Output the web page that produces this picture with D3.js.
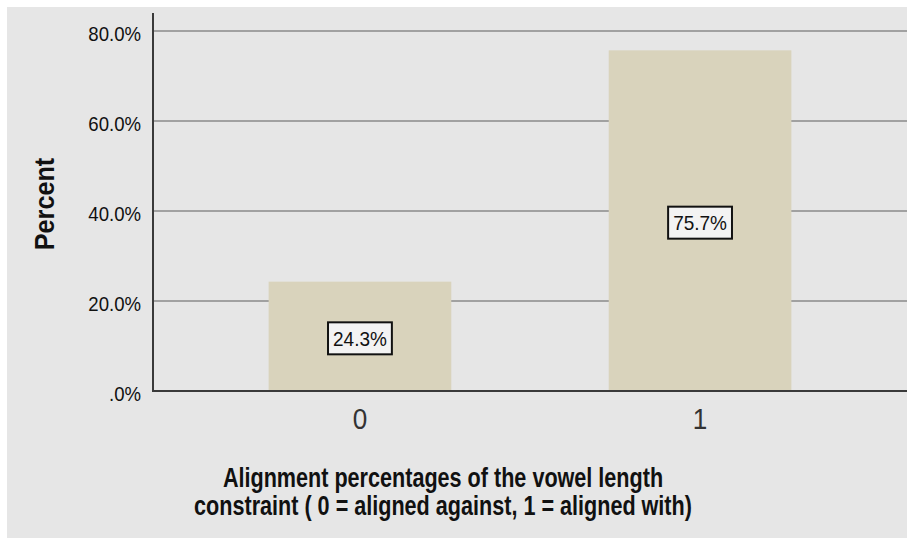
<!DOCTYPE html>
<html>
<head>
<meta charset="utf-8">
<script src="https://cdnjs.cloudflare.com/ajax/libs/d3/7.8.5/d3.min.js"></script>
<style>
  body { margin: 0; background: #fff; }
  svg { display: block; }
  text { font-family: "Liberation Sans", Arial, sans-serif; }
</style>
</head>
<body>
<svg class="parchment" width="907" height="538"></svg>
<script>
// data
var categories = ["0", "1"]
var percents = [24.3, 75.7]
var yTicks = [0, 20, 40, 60, 80]
var yTitle = "Percent"
var xTitleLines = ["Alignment percentages of the vowel length",
                   "constraint ( 0 = aligned against, 1 = aligned with)"]

var W = 907, H = 538
var plot = {left: 153, right: 907, top: 13, bottom: 391}

var svg = d3.select(".parchment")

svg.append("rect")
  .attr("x", 7).attr("y", 7)
  .attr("width", W - 7).attr("height", H - 7)
  .attr("fill", "#e6e6e6")

var x = d3.scaleBand()
  .domain(categories)
  .range([plot.left, plot.right])
  .paddingInner(0.463)
  .paddingOuter(0.34)

var y = d3.scaleLinear()
  .domain([0, 80])
  .range([plot.bottom, 31])

// squeezed text: the source renders glyphs tall and narrow
function squeezed(g, px, py, str, size, sx, anchor, weight) {
  return g.append("text")
    .attr("transform", "translate(" + px + "," + py + ") scale(" + sx + ",1)")
    .attr("text-anchor", anchor)
    .attr("font-size", size)
    .attr("font-weight", weight || "normal")
    .attr("fill", "#111")
    .text(str)
}

// gridlines
svg.append("g").selectAll("line")
  .data(yTicks.filter(function(d) { return d > 0 }))
  .enter().append("line")
  .attr("x1", plot.left).attr("x2", plot.right)
  .attr("y1", function(d) { return y(d) }).attr("y2", function(d) { return y(d) })
  .attr("stroke", "#8a8a8a")
  .attr("stroke-width", 1.5)

// bars
svg.append("g").selectAll("rect")
  .data(percents)
  .enter().append("rect")
  .attr("x", function(d, i) { return x(categories[i]) })
  .attr("width", x.bandwidth())
  .attr("y", function(d) { return y(d) })
  .attr("height", function(d) { return y(0) - y(d) })
  .attr("fill", "#d9d3bc")

// axes lines
svg.append("line")
  .attr("x1", plot.left).attr("x2", plot.left)
  .attr("y1", plot.top).attr("y2", plot.bottom)
  .attr("stroke", "#3a3a3a").attr("stroke-width", 2)
svg.append("line")
  .attr("x1", plot.left - 1).attr("x2", plot.right)
  .attr("y1", plot.bottom).attr("y2", plot.bottom)
  .attr("stroke", "#3a3a3a").attr("stroke-width", 2)

// y tick labels
var yl = svg.append("g")
yTicks.forEach(function(t) {
  var lab = t === 0 ? ".0%" : d3.format(".1f")(t) + "%"
  squeezed(yl, 141, y(t) + 10, lab, 20, 0.93, "end")
})

// x tick labels
var xl = svg.append("g")
categories.forEach(function(c) {
  squeezed(xl, x(c) + x.bandwidth() / 2, 429, c, 29, 0.9, "middle")
    .attr("fill", "#333")
})

// value labels in boxes
var vl = svg.append("g")
percents.forEach(function(v, i) {
  var cx = x(categories[i]) + x.bandwidth() / 2
  var cy = (y(v) + y(0)) / 2 + 2
  var box = vl.append("rect")
  var t = squeezed(vl, cx, cy + 7.5, v.toFixed(1) + "%", 20, 0.95, "middle")
  var w = t.node().getComputedTextLength() * 0.95 + 10
  box.attr("x", cx - w / 2).attr("y", cy - 16)
    .attr("width", w).attr("height", 32)
    .attr("fill", "#f3f3f3")
    .attr("stroke", "#111").attr("stroke-width", 2)
})

// axis titles
var yt = svg.append("g")
yt.append("text")
  .attr("transform", "translate(54,204) rotate(-90) scale(0.9,1)")
  .attr("text-anchor", "middle")
  .attr("font-size", 28)
  .attr("font-weight", "bold")
  .attr("fill", "#111")
  .text(yTitle)

var xt = svg.append("g")
xTitleLines.forEach(function(line, i) {
  squeezed(xt, 443, 487 + i * 28, line, 27, 0.8, "middle", "bold")
})
</script>
</body>
</html>
